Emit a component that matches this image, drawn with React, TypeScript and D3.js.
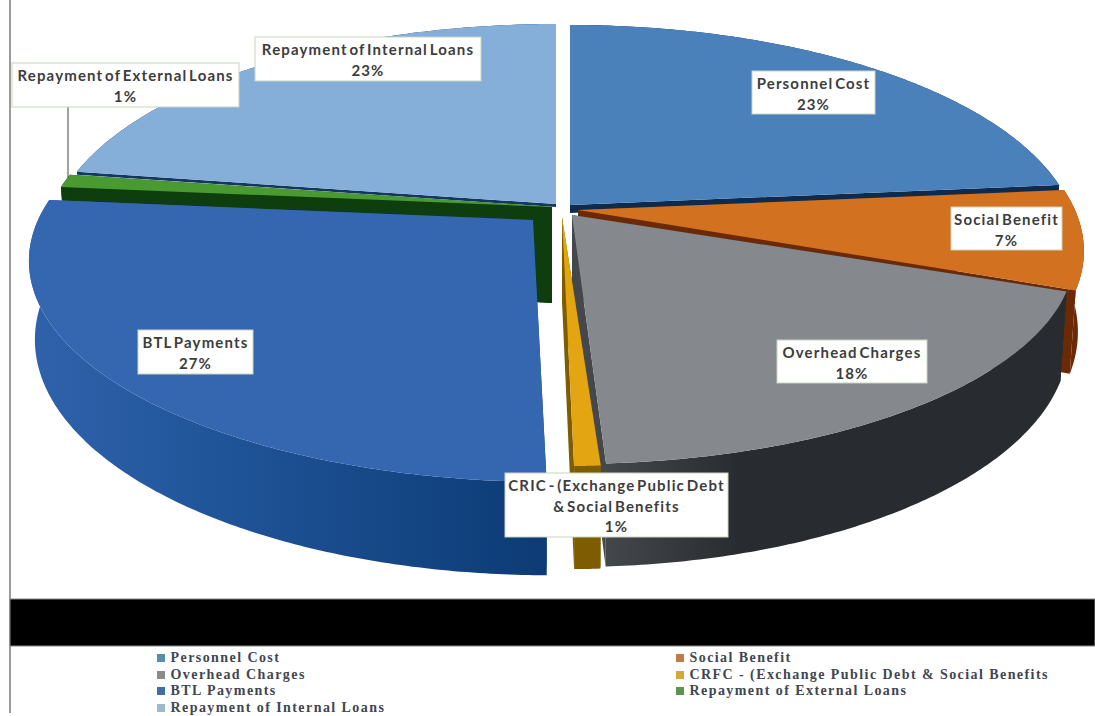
import React from "react";
import * as d3 from "d3";

// Expenditure shares, in percent, clockwise from twelve o'clock.
const categories = [
  "Personnel Cost",
  "Social Benefit",
  "Overhead Charges",
  "CRFC - (Exchange Public Debt & Social Benefits",
  "BTL Payments",
  "Repayment of External Loans",
  "Repayment of Internal Loans",
];
const shares = [23, 7, 18, 1, 27, 1, 23];

const topColors = ["#4a81bb", "#d2711f", "#85898d", "#e3a511", "#3567b1", "#4a9a32", "#85aed8"];
const wallColors = ["#0e2b4e", "#6b2a05", "url(#overheadWall)", "#7d5c02", "url(#btlWall)", "#0e3d0e", "#12385e"];
const legendColors = ["#5a8da8", "#c07a4a", "#8e8a85", "#d3aa3a", "#3d6ea5", "#5f9150", "#9db9cc"];

// Where each slice sits once exploded: apex, rim centre, rim radius, vertical squash and thickness.
const sliceLayout = [
  { apex: [570, 205], rim: [570, 205], kx: 500, ky: 1, depth: 8 },
  { apex: [578, 210], rim: [572, 210], kx: 503, ky: 1, depth: 78 },
  { apex: [572, 215], rim: [572, 215], kx: 494, ky: 0.95, depth: 84 },
  { apex: [562, 217], rim: [577, 217], kx: 345, ky: 0.95, depth: 84 },
  { apex: [533, 220], rim: [551, 220], kx: 513, ky: 1, depth: 76 },
  { apex: [552, 207], rim: [550, 207], kx: 500, ky: 1, depth: 96 },
  { apex: [556, 204], rim: [556, 204], kx: 499, ky: 1, depth: 3 },
];

// Slices are painted from the back of the disc towards the viewer.
const paintOrder = [6, 0, 5, 1, 2, 3, 4];

const labelBoxes = [
  { x: 752, y: 71, w: 123, h: 43, lines: ["Personnel Cost", "23%"] },
  { x: 951, y: 207, w: 111, h: 43, lines: ["Social Benefit", "7%"] },
  { x: 777, y: 340, w: 150, h: 43, lines: ["Overhead Charges", "18%"] },
  { x: 505, y: 473, w: 223, h: 64, lines: ["CRIC - (Exchange Public Debt", "& Social Benefits", "1%"] },
  { x: 138, y: 330, w: 115, h: 44, lines: ["BTL Payments", "27%"] },
  { x: 12, y: 63, w: 227, h: 44, lines: ["Repayment of External Loans", "1%"] },
  { x: 255, y: 37, w: 226, h: 44, lines: ["Repayment of Internal Loans", "23%"] },
];

const legendRows = [
  { index: 0, x: 157, y: 658 },
  { index: 2, x: 157, y: 675 },
  { index: 4, x: 157, y: 691 },
  { index: 6, x: 157, y: 708 },
  { index: 1, x: 676, y: 658 },
  { index: 3, x: 676, y: 675 },
  { index: 5, x: 676, y: 691 },
];

// Perspective of the disc: the near rim is larger than the far one.
const PERSPECTIVE = 0.1855;
const DEPTH_SCALE = 213.4;
// The projection swings the near half of the disc slightly clockwise.
const SWING = (4 * Math.PI) / 180;
// The underside of the disc sits further from the viewer, so it draws a little narrower.
const UNDERSIDE_SHRINK = 0.00015;

const warp = (a: number) => a + (SWING * (1 - Math.cos(a))) / 2;

type Layout = (typeof sliceLayout)[number];

function rimPoint(a: number, s: Layout, drop: number): [number, number] {
  const t = warp(a);
  const w = 1 + PERSPECTIVE * Math.cos(t);
  return [
    s.rim[0] + ((s.kx * Math.sin(t)) / w) * (1 - drop * UNDERSIDE_SHRINK),
    s.rim[1] - (DEPTH_SCALE * s.ky * Math.cos(t)) / w + drop / w,
  ];
}

const closedPath = d3.line<[number, number]>().curve(d3.curveLinearClosed);

function rimPoints(a0: number, a1: number, s: Layout, drop: number) {
  const steps = Math.max(2, Math.ceil((a1 - a0) / 0.01));
  return d3.range(steps + 1).map((i) => rimPoint(a0 + ((a1 - a0) * i) / steps, s, drop));
}

const arcs = d3
  .pie<number>()
  .sort(null)
  .value((d) => d)(shares);

function topPath(i: number) {
  const s = sliceLayout[i];
  const pts = rimPoints(arcs[i].startAngle, arcs[i].endAngle, s, 0);
  return closedPath([[s.apex[0], s.apex[1]], ...pts]) as string;
}

function outerWallPath(i: number) {
  const s = sliceLayout[i];
  const upper = rimPoints(arcs[i].startAngle, arcs[i].endAngle, s, 0);
  const lower = rimPoints(arcs[i].startAngle, arcs[i].endAngle, s, s.depth);
  return closedPath([...upper, ...lower.reverse()]) as string;
}

function cutWallPath(i: number, angle: number) {
  const s = sliceLayout[i];
  const edge = rimPoint(angle, s, 0);
  const edgeLow = rimPoint(angle, s, s.depth);
  return closedPath([
    [s.apex[0], s.apex[1]],
    edge,
    edgeLow,
    [s.apex[0], s.apex[1] + s.depth],
  ]) as string;
}

const labelFont = "Lato, 'Open Sans', sans-serif";
const legendFont = "'Liberation Serif', serif";

export default function App() {
  return (
    <svg
      width={1095}
      height={716}
      style={{ position: "fixed", left: 0, top: 0, background: "#fff", display: "block" }}
    >
      <defs>
        <linearGradient id="btlWall" gradientUnits="userSpaceOnUse" x1={30} x2={546} y1={0} y2={0}>
          <stop offset="0" stopColor="#2f62ab" />
          <stop offset="0.4" stopColor="#1f5397" />
          <stop offset="1" stopColor="#0c3b75" />
        </linearGradient>
        <linearGradient id="overheadWall" gradientUnits="userSpaceOnUse" x1={605} x2={740} y1={0} y2={0}>
          <stop offset="0" stopColor="#44474b" />
          <stop offset="1" stopColor="#282c30" />
        </linearGradient>
      </defs>

      <line x1={10} x2={10} y1={0} y2={713} stroke="#7a7a7a" strokeWidth={1.5} />

      {paintOrder.map((i) => (
        <g key={categories[i]}>
          <path d={cutWallPath(i, arcs[i].startAngle)} fill={wallColors[i]} />
          <path d={cutWallPath(i, arcs[i].endAngle)} fill={wallColors[i]} />
          <path d={outerWallPath(i)} fill={wallColors[i]} />
          <path d={topPath(i)} fill={topColors[i]} />
        </g>
      ))}

      {/* Leader from the external-loans label down to its slice */}
      <line x1={68} x2={68} y1={107} y2={178} stroke="#3c4a3c" strokeWidth={1} />

      {labelBoxes.map((b) => (
        <g key={b.lines[0]}>
          <rect x={b.x} y={b.y} width={b.w} height={b.h} fill="#fff" stroke="#c9d4c0" strokeWidth={1} />
          {b.lines.map((line, k) => (
            <text
              key={line}
              x={b.x + b.w / 2}
              y={b.y + 18 + k * 20.5}
              textAnchor="middle"
              fontFamily={labelFont}
              fontWeight={700}
              fontSize={15}
              letterSpacing={1.15}
              wordSpacing={-3}
              fill="#3d3d3d"
            >
              {line}
            </text>
          ))}
        </g>
      ))}

      <rect x={10} y={599} width={1085} height={47} fill="#000" stroke="#8a8a8a" strokeWidth={1} />

      {legendRows.map((r) => (
        <g key={r.index}>
          <rect x={r.x} y={r.y - 4} width={8} height={8} fill={legendColors[r.index]} />
          <text
            x={r.x + 13.5}
            y={r.y + 4}
            fontFamily={legendFont}
            fontWeight={700}
            fontSize={14}
            letterSpacing={1.43}
            fill="#404650"
          >
            {categories[r.index]}
          </text>
        </g>
      ))}
    </svg>
  );
}
